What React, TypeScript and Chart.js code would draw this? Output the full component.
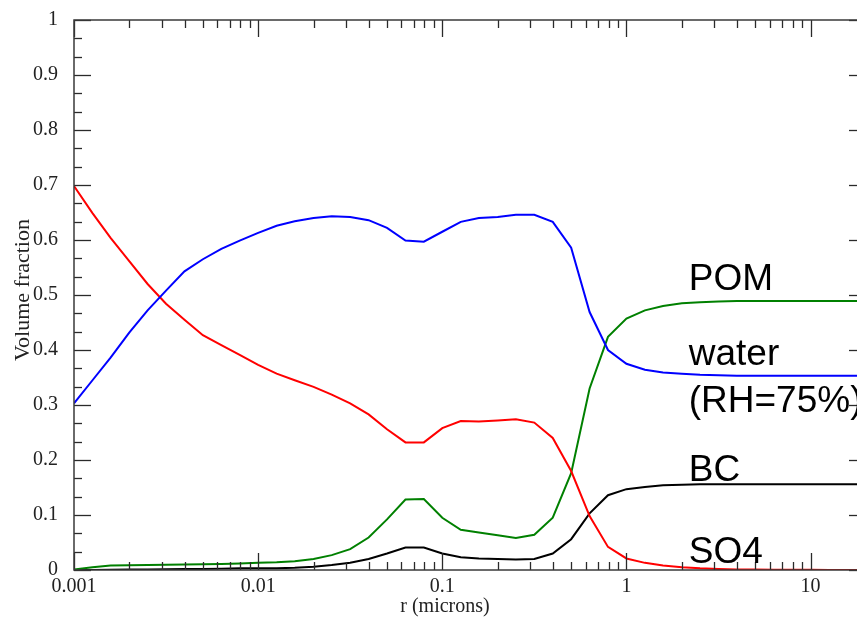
import React, { useEffect, useRef } from "react";
import { Chart, registerables } from "chart.js";

Chart.register(...registerables);

// Particle radius (microns), 10 points per decade
const radius = [
  0.001, 0.00126, 0.00158, 0.002, 0.00251, 0.00316, 0.00398, 0.00501, 0.00631, 0.00794,
  0.01, 0.0126, 0.0158, 0.02, 0.0251, 0.0316, 0.0398, 0.0501, 0.0631, 0.0794,
  0.1, 0.126, 0.158, 0.2, 0.251, 0.316, 0.398, 0.501, 0.631, 0.794,
  1, 1.26, 1.58, 2, 2.51, 3.16, 3.98, 5.01, 6.31, 7.94,
  10, 12.6, 15.8, 20,
];

const water = [
  0.303, 0.345, 0.386, 0.432, 0.472, 0.508, 0.543, 0.565, 0.584, 0.599,
  0.613, 0.626, 0.634, 0.64, 0.643, 0.642, 0.636, 0.622, 0.599, 0.597,
  0.615, 0.633, 0.64, 0.642, 0.646, 0.646, 0.633, 0.586, 0.469, 0.4,
  0.375, 0.364, 0.359, 0.357, 0.355, 0.354, 0.353, 0.353, 0.353, 0.353,
  0.353, 0.353, 0.353, 0.353,
];

const so4 = [
  0.698, 0.649, 0.604, 0.561, 0.52, 0.484, 0.455, 0.427, 0.409, 0.391,
  0.373, 0.357, 0.345, 0.333, 0.319, 0.303, 0.283, 0.256, 0.232, 0.232,
  0.258, 0.271, 0.27, 0.272, 0.274, 0.268, 0.24, 0.18, 0.098, 0.042,
  0.021, 0.013, 0.008, 0.005, 0.003, 0.002, 0.001, 0.001, 0.0005, 0.0005,
  0.0003, 0.0002, 0.0001, 0.0001,
];

const pom = [
  0.001, 0.005, 0.008, 0.0085, 0.009, 0.0095, 0.01, 0.0105, 0.011, 0.012,
  0.013, 0.014, 0.016, 0.02, 0.027, 0.038, 0.059, 0.092, 0.128, 0.129,
  0.095, 0.073, 0.068, 0.063, 0.058, 0.064, 0.095, 0.176, 0.33, 0.424,
  0.457, 0.472, 0.48, 0.485, 0.487, 0.488, 0.489, 0.489, 0.489, 0.489,
  0.489, 0.489, 0.489, 0.489,
];

const bc = [
  0, 0, 0.0005, 0.001, 0.001, 0.0015, 0.002, 0.002, 0.0025, 0.003,
  0.003, 0.003, 0.004, 0.006, 0.009, 0.013, 0.02, 0.03, 0.041, 0.041,
  0.03, 0.023, 0.021, 0.02, 0.019, 0.02, 0.03, 0.056, 0.103, 0.136,
  0.147, 0.151, 0.154, 0.155, 0.156, 0.156, 0.156, 0.156, 0.156, 0.156,
  0.156, 0.156, 0.156, 0.156,
];

const xTickValues = [0.001, 0.01, 0.1, 1, 10];
const xTickLabels = ["0.001", "0.01", "0.1", "1", "10"];
const yTickValues = [0, 0.1, 0.2, 0.3, 0.4, 0.5, 0.6, 0.7, 0.8, 0.9, 1];
const yTickLabels = ["0", "0.1", "0.2", "0.3", "0.4", "0.5", "0.6", "0.7", "0.8", "0.9", "1"];

const seriesLabels = ["POM", "water", "(RH=75%)", "BC", "SO4"];

const SERIF = '"Liberation Serif", "Times New Roman", serif';
const SANS = '"Liberation Sans", Arial, sans-serif';

const CANVAS_W = 890;
const CANVAS_H = 621;

const framePlugin = {
  id: "frame",
  afterDatasetsDraw(chart: any) {
    const ctx = chart.ctx;
    const { left, right, top, bottom } = chart.chartArea;
    const xs = chart.scales.x;
    const ys = chart.scales.y;
    ctx.save();
    ctx.strokeStyle = "#2a2a2a";
    ctx.lineWidth = 1.3;
    const line = (x1: number, y1: number, x2: number, y2: number) => {
      ctx.beginPath();
      ctx.moveTo(x1, y1);
      ctx.lineTo(x2, y2);
      ctx.stroke();
    };
    // y ticks (major every 0.1, minor every 1/30)
    for (let k = 0; k <= 30; k++) {
      const py = Math.round(ys.getPixelForValue(k / 30)) + 0.5;
      const len = k % 3 === 0 ? 17 : 8;
      line(left, py, left + len, py);
      line(right, py, right - len, py);
    }
    // x ticks (log decades)
    for (const d of xTickValues) {
      for (let m = 1; m <= 9; m++) {
        const v = d * m;
        if (v > xs.max + 1e-9) continue;
        const px = Math.round(xs.getPixelForValue(v)) + 0.5;
        const len = m === 1 ? 17 : 8;
        line(px, bottom, px, bottom - len);
        line(px, top, px, top + len);
      }
    }
    ctx.strokeStyle = "#3a3a3a";
    ctx.lineWidth = 1.5;
    ctx.strokeRect(left, top, right - left, bottom - top);
    ctx.restore();
  },
  afterDraw(chart: any) {
    const ctx = chart.ctx;
    const xs = chart.scales.x;
    const ys = chart.scales.y;
    ctx.save();
    // axis titles
    ctx.fillStyle = "#222";
    ctx.textAlign = "center";
    ctx.textBaseline = "middle";
    ctx.font = `20px ${SERIF}`;
    ctx.fillText("r (microns)", 445, 607);
    ctx.save();
    ctx.translate(23, 290);
    ctx.rotate(-Math.PI / 2);
    ctx.font = `22px ${SERIF}`;
    ctx.fillText("Volume fraction", 0, 0);
    ctx.restore();
    // series labels
    ctx.fillStyle = "#000";
    ctx.textAlign = "left";
    ctx.textBaseline = "alphabetic";
    ctx.font = `37px ${SANS}`;
    const lx = xs.getPixelForValue(2.18);
    const baselines = [0.509, 0.373, 0.288, 0.162, 0.012];
    seriesLabels.forEach((t, i) => {
      ctx.fillText(t, lx, ys.getPixelForValue(baselines[i]));
    });
    ctx.restore();
  },
};

export default function App() {
  const canvasRef = useRef<HTMLCanvasElement | null>(null);

  useEffect(() => {
    const canvas = canvasRef.current;
    if (!canvas) return;
    const mk = (data: number[], color: string) => ({
      data: radius.map((r, i) => ({ x: r, y: data[i] })),
      borderColor: color,
      backgroundColor: color,
      borderWidth: 2,
      pointRadius: 0,
      tension: 0,
      fill: false,
    });
    const chart = new Chart(canvas, {
      type: "line",
      data: {
        datasets: [
          mk(water, "#0000ff"),
          mk(so4, "#ff0000"),
          mk(pom, "#008000"),
          mk(bc, "#000000"),
        ],
      },
      options: {
        animation: false,
        responsive: false,
        devicePixelRatio: 1,
        layout: { padding: { left: 0, top: 16, right: CANVAS_W - 866, bottom: 0 } },
        plugins: {
          legend: { display: false },
          tooltip: { enabled: false },
          title: { display: false },
        },
        scales: {
          x: {
            type: "logarithmic",
            min: 0.001,
            max: 20,
            grid: { display: false },
            border: { display: false },
            afterBuildTicks: (scale: any) => {
              scale.ticks = xTickValues.map((v) => ({ value: v }));
            },
            afterFit: (scale: any) => {
              scale.height = 51;
            },
            ticks: {
              autoSkip: false,
              maxRotation: 0,
              padding: -3,
              color: "#222",
              font: { family: SERIF, size: 20 },
              callback: (v: any) => {
                const i = xTickValues.findIndex((t) => Math.abs(t - Number(v)) < t * 1e-6);
                return i >= 0 ? xTickLabels[i] : "";
              },
            },
          },
          y: {
            type: "linear",
            min: 0,
            max: 1,
            grid: { display: false },
            border: { display: false },
            afterBuildTicks: (scale: any) => {
              scale.ticks = yTickValues.map((v) => ({ value: v }));
            },
            afterFit: (scale: any) => {
              scale.width = 74;
            },
            ticks: {
              padding: 8,
              color: "#222",
              font: { family: SERIF, size: 20 },
              callback: (v: any) => {
                const i = yTickValues.findIndex((t) => Math.abs(t - Number(v)) < 1e-6);
                return i >= 0 ? yTickLabels[i] : "";
              },
            },
          },
        },
      },
      plugins: [framePlugin],
    } as any);
    return () => chart.destroy();
  }, []);

  return (
    <div
      style={{
        position: "fixed",
        left: 0,
        top: 0,
        width: 857,
        height: 621,
        overflow: "hidden",
        background: "#fff",
      }}
    >
      <canvas
        ref={canvasRef}
        width={CANVAS_W}
        height={CANVAS_H}
        style={{ display: "block", width: CANVAS_W, height: CANVAS_H }}
      />
    </div>
  );
}
